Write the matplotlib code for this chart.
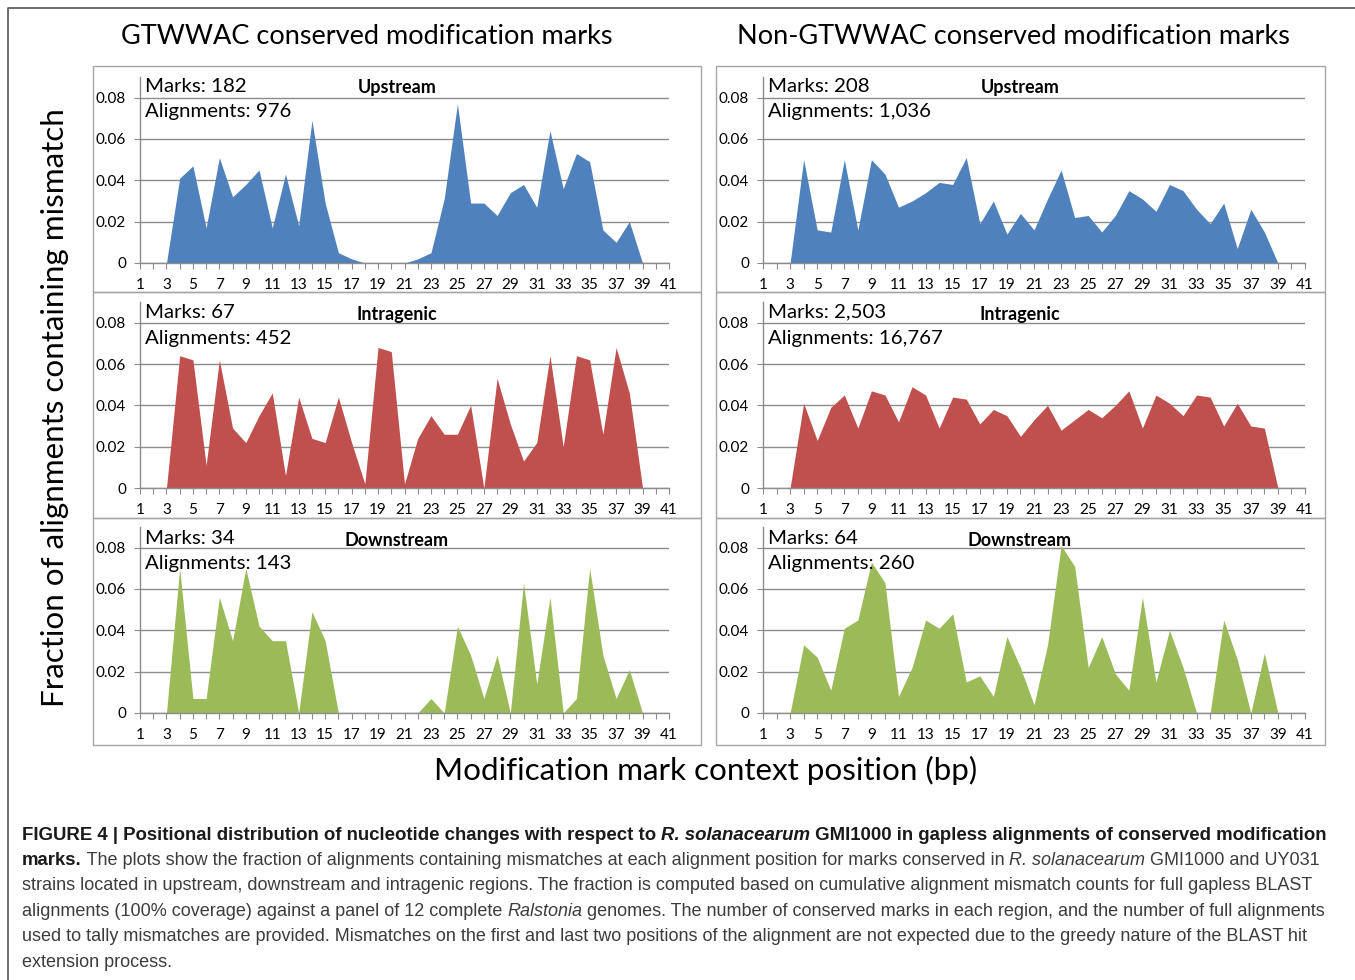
import numpy as np
import matplotlib
matplotlib.use("Agg")
import matplotlib.pyplot as plt
from matplotlib.patches import Rectangle
from matplotlib.lines import Line2D

# positions 3..39 carry data, the axis runs 1..41
positions = list(range(3, 40))

gtwwac_up = [0, 0.041, 0.047, 0.017, 0.051, 0.032, 0.038, 0.045, 0.017, 0.043, 0.018, 0.069,
             0.029, 0.005, 0.002, 0, 0, 0, 0, 0.002, 0.005, 0.031, 0.077, 0.029, 0.029, 0.023,
             0.034, 0.038, 0.027, 0.064, 0.036, 0.053, 0.049, 0.016, 0.010, 0.020, 0]
gtwwac_intra = [0, 0.064, 0.062, 0.011, 0.062, 0.029, 0.022, 0.035, 0.046, 0.006, 0.044, 0.024,
                0.022, 0.044, 0.022, 0.002, 0.068, 0.066, 0.002, 0.024, 0.035, 0.026, 0.026, 0.040,
                0, 0.053, 0.031, 0.013, 0.022, 0.064, 0.020, 0.064, 0.062, 0.026, 0.068, 0.046, 0]
gtwwac_down = [0, 0.070, 0.007, 0.007, 0.056, 0.035, 0.070, 0.042, 0.035, 0.035, 0, 0.049,
               0.035, 0, 0, 0, 0, 0, 0, 0, 0.007, 0, 0.042, 0.028, 0.007, 0.028,
               0, 0.063, 0.014, 0.056, 0, 0.007, 0.070, 0.028, 0.007, 0.021, 0]
non_up = [0, 0.050, 0.016, 0.015, 0.050, 0.016, 0.050, 0.043, 0.027, 0.030, 0.034, 0.039,
          0.038, 0.051, 0.019, 0.030, 0.014, 0.024, 0.016, 0.031, 0.045, 0.022, 0.023, 0.015,
          0.023, 0.035, 0.031, 0.025, 0.038, 0.035, 0.026, 0.019, 0.029, 0.007, 0.026, 0.015, 0]
non_intra = [0, 0.041, 0.023, 0.039, 0.045, 0.029, 0.047, 0.045, 0.032, 0.049, 0.045, 0.029,
             0.044, 0.043, 0.031, 0.038, 0.035, 0.025, 0.033, 0.040, 0.028, 0.033, 0.038, 0.034,
             0.040, 0.047, 0.029, 0.045, 0.041, 0.035, 0.045, 0.044, 0.030, 0.041, 0.030, 0.029, 0]
non_down = [0, 0.033, 0.027, 0.011, 0.041, 0.045, 0.073, 0.063, 0.008, 0.022, 0.045, 0.041,
            0.048, 0.015, 0.018, 0.008, 0.037, 0.022, 0.004, 0.033, 0.081, 0.071, 0.022, 0.037,
            0.019, 0.011, 0.056, 0.015, 0.040, 0.022, 0, 0, 0.045, 0.026, 0, 0.029, 0]

col_titles = ["GTWWAC conserved modification marks", "Non-GTWWAC conserved modification marks"]
regions = ["Upstream", "Intragenic", "Downstream"]
marks = [["182", "67", "34"], ["208", "2,503", "64"]]
alignments = [["976", "452", "143"], ["1,036", "16,767", "260"]]
series = [[gtwwac_up, gtwwac_intra, gtwwac_down], [non_up, non_intra, non_down]]
colors = ["#4F81BD", "#C0504D", "#9BBB59"]

W, H = 1355, 980
fig = plt.figure(figsize=(W / 100, H / 100), dpi=100)
fig.patch.set_facecolor("white")
chart_font = "Lato"
cap_font = "Liberation Sans"


def fx(x):
    return x / W


def fy(y):
    return 1 - y / H


# outer figure frame (left and top edges)
fig.add_artist(Line2D([fx(8), fx(8), 1], [0, fy(8), fy(8)], color="#555555", lw=1.2))

box_left = [93, 716]
box_right = [701, 1325]
plot_left = [140, 763]
plot_right = [669, 1305]
box_tops = [66, 292, 518]
plot_bottoms = [263, 488, 713]
title_x = [367, 1013]
region_x = [397, 1020]
grid_gray = "#8C8C8C"

for c in range(2):
    fig.text(fx(title_x[c]), fy(37), col_titles[c],
             ha="center", va="center", fontsize=19.5, family=chart_font)
    for r in range(3):
        top = box_tops[r]
        bot = box_tops[r] + 226 if r < 2 else 745
        fig.add_artist(Rectangle((fx(box_left[c]), fy(bot)), fx(box_right[c] - box_left[c]),
                                 (bot - top) / H, transform=fig.transFigure, fill=False,
                                 edgecolor="#A6A6A6", lw=1.0))
        pb = plot_bottoms[r]
        ax = fig.add_axes([fx(plot_left[c]), fy(pb), fx(plot_right[c] - plot_left[c]), 186 / H])
        ax.fill_between(positions, series[c][r], 0, color=colors[r], lw=0)
        ax.set_xlim(1, 41)
        ax.set_ylim(0, 0.09)
        ax.set_xticks(range(1, 42))
        ax.set_xticklabels([str(i) if i % 2 == 1 else "" for i in range(1, 42)])
        ax.set_yticks([0, 0.02, 0.04, 0.06, 0.08])
        ax.set_yticklabels(["0", "0.02", "0.04", "0.06", "0.08"])
        ax.set_axisbelow(True)
        ax.yaxis.grid(True, color=grid_gray, lw=1.0)
        for s in ["top", "right"]:
            ax.spines[s].set_visible(False)
        for s in ["left", "bottom"]:
            ax.spines[s].set_color(grid_gray)
            ax.spines[s].set_linewidth(1.0)
        ax.tick_params(axis="x", direction="out", length=4, color=grid_gray, pad=7,
                       labelsize=11)
        ax.tick_params(axis="y", direction="out", length=4, color=grid_gray, pad=6,
                       labelsize=11)
        for lab in ax.get_xticklabels() + ax.get_yticklabels():
            lab.set_family(chart_font)
        ax.patch.set_alpha(0)

        fig.text(fx(plot_left[c] + 5), fy(top + 20), "Marks: " + marks[c][r],
                 ha="left", va="center", fontsize=14.7, family=chart_font)
        fig.text(fx(plot_left[c] + 5), fy(top + 46), "Alignments: " + alignments[c][r],
                 ha="left", va="center", fontsize=14.7, family=chart_font)
        fig.text(fx(region_x[c]), fy(top + 22), regions[r],
                 ha="center", va="center", fontsize=13, fontweight="bold", family=chart_font)

fig.text(fx(55), fy(408), "Fraction of alignments containing mismatch", rotation=90,
         ha="center", va="center", fontsize=22.6, family=chart_font)
fig.text(fx(706), fy(770), "Modification mark context position (bp)",
         ha="center", va="center", fontsize=22.6, family=chart_font)

# caption, drawn piece by piece so the styles can change inside a line
caption = [
    [("FIGURE 4 | Positional distribution of nucleotide changes with respect to ", "bold", "normal"),
     ("R. solanacearum", "bold", "italic"),
     (" GMI1000 in gapless alignments of conserved modification", "bold", "normal")],
    [("marks.", "bold", "normal"),
     (" The plots show the fraction of alignments containing mismatches at each alignment position for marks conserved in ", "normal", "normal"),
     ("R. solanacearum", "normal", "italic"),
     (" GMI1000 and UY031", "normal", "normal")],
    [("strains located in upstream, downstream and intragenic regions. The fraction is computed based on cumulative alignment mismatch counts for full gapless BLAST", "normal", "normal")],
    [("alignments (100% coverage) against a panel of 12 complete ", "normal", "normal"),
     ("Ralstonia", "normal", "italic"),
     (" genomes. The number of conserved marks in each region, and the number of full alignments", "normal", "normal")],
    [("used to tally mismatches are provided. Mismatches on the first and last two positions of the alignment are not expected due to the greedy nature of the BLAST hit", "normal", "normal")],
    [("extension process.", "normal", "normal")],
]
line_y = [835, 860, 886, 911, 936, 962]

renderer = fig.canvas.get_renderer()
for pieces, y in zip(caption, line_y):
    x = 22
    for txt, weight, style in pieces:
        col = "#1A1A1A" if weight == "bold" else "#3C3C3C"
        size = 13.4 if weight == "bold" else 13.0
        t = fig.text(fx(x), fy(y), txt, ha="left", va="center", fontsize=size,
                     fontweight=weight, fontstyle=style, family=cap_font, color=col)
        bb = t.get_window_extent(renderer=renderer)
        x += bb.width

fig.savefig("out.png", dpi=100)
